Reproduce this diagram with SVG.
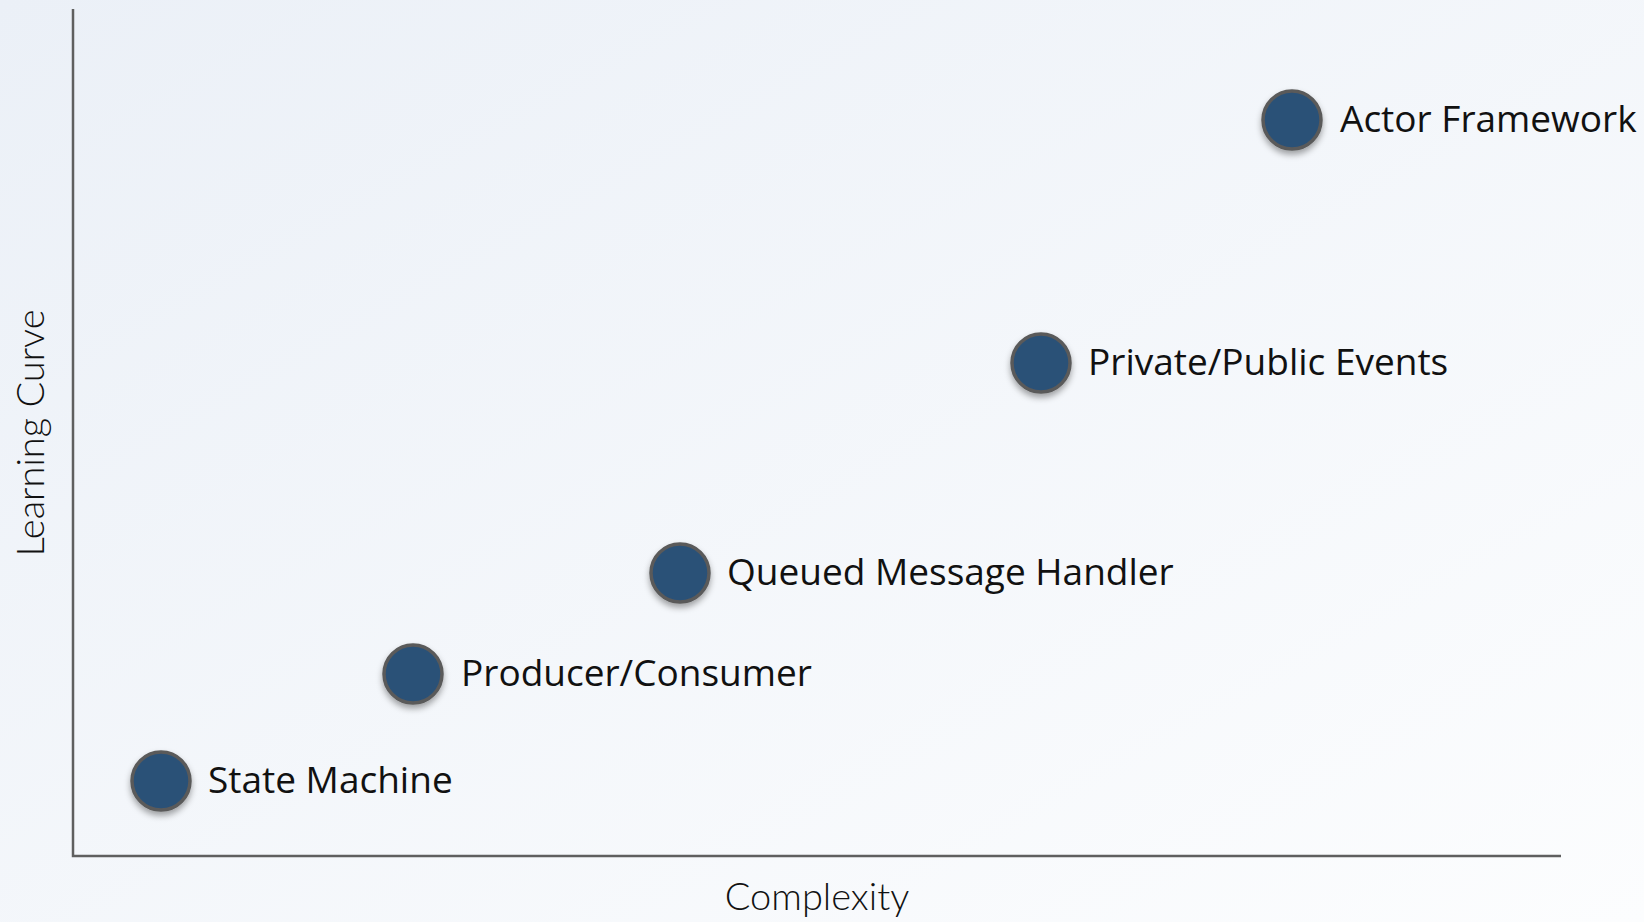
<svg xmlns="http://www.w3.org/2000/svg" width="1644" height="922" viewBox="0 0 1644 922">
<defs>
<linearGradient id="bg" x1="0" y1="0" x2="1" y2="1">
<stop offset="0" stop-color="#ebf0f7"/>
<stop offset="1" stop-color="#fcfdfe"/>
</linearGradient>
<filter id="sh" x="-50%" y="-50%" width="200%" height="200%">
<feDropShadow dx="0" dy="4" stdDeviation="3" flood-color="#000" flood-opacity="0.35"/>
</filter>
</defs>
<style>
.dot{fill:#2b5177;stroke:#5a5a5a;stroke-width:3.5;filter:url(#sh)}
.lbl{font-family:"Open Sans","Noto Sans",sans-serif;font-size:37px;fill:#111}
.ax{font-family:Lato,"Open Sans",sans-serif;font-size:38px;font-weight:300;fill:#111}
.axis{fill:none;stroke:#5f5f5f;stroke-width:2.5}
</style>
<rect width="1644" height="922" fill="url(#bg)"/>
<g id="axes">
<polyline class="axis" points="73,9 73,856 1561,856"/>
<text class="ax" x="817" y="910" text-anchor="middle">Complexity</text>
<text class="ax" transform="translate(44,433) rotate(-90)" text-anchor="middle">Learning Curve</text>
</g>
<g id="state-machine"><circle class="dot" cx="161" cy="781" r="29"/><text class="lbl" x="208" y="793">State Machine</text></g>
<g id="producer-consumer"><circle class="dot" cx="413" cy="674" r="29"/><text class="lbl" x="461" y="686">Producer/Consumer</text></g>
<g id="queued-message-handler"><circle class="dot" cx="680" cy="573" r="29"/><text class="lbl" x="727" y="585">Queued Message Handler</text></g>
<g id="private-public-events"><circle class="dot" cx="1041" cy="363" r="29"/><text class="lbl" x="1088" y="375">Private/Public Events</text></g>
<g id="actor-framework"><circle class="dot" cx="1292" cy="120" r="29"/><text class="lbl" x="1340" y="132">Actor Framework</text></g>
</svg>
